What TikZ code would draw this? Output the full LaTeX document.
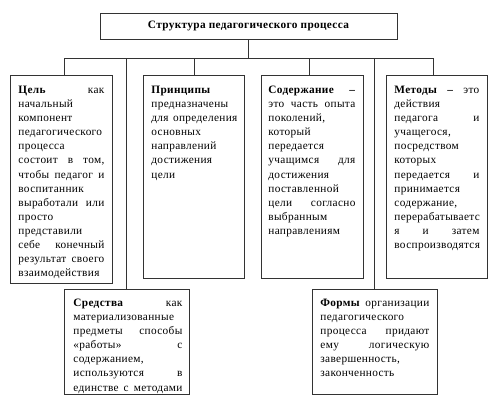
\documentclass[tikz,border=0pt]{standalone}
\usepackage{fontspec}
\setmainfont{Liberation Serif}[LetterSpace=3.0]
\newdimen\tpad \newdimen\tw
\newcommand\Ln[1]{\moveright\tpad\hbox to\tw{#1\hfil}}
% #1 width, #2 height, #3 left pad, #4 text width, #5 first baseline, #6 lines
\newcommand\bxt[6]{\tpad=#3pt\relax\tw=#4pt\relax
  \vbox to #2pt{\baselineskip=14.1pt\lineskiplimit=-20pt\lineskip=0pt
    \kern\dimexpr#5pt-14.1pt\relax\hbox to #1pt{}#6\vfill}}
\tikzset{
  box/.style={draw=black!80,line width=0.8pt,inner sep=0pt,anchor=north west,
    font=\fontsize{11.3}{14.1}\selectfont},
  conn/.style={draw=black!80,line width=0.8pt},
}
\begin{document}
\begin{tikzpicture}[x=1pt,y=-1pt]
\useasboundingbox (0,0) rectangle (500,410);
\node[draw=black!80,line width=0.8pt,minimum width=297pt,minimum height=26pt,inner sep=0pt,
  font=\fontsize{11.3}{14.1}\selectfont\bfseries] (title) at (248.5,26) {Структура педагогического процесса};

\node[box] (cel) at (10,75) {\bxt{102}{208}{8}{86}{18}{%
  \Ln{\textbf{Цель}\hfill как}%
  \Ln{начальный}%
  \Ln{компонент}%
  \Ln{педагогического}%
  \Ln{процесса}%
  \Ln{состоит\hfill в\hfill том,}%
  \Ln{чтобы\hfill педагог\hfill и}%
  \Ln{воспитанник}%
  \Ln{выработали\hfill или}%
  \Ln{просто}%
  \Ln{представили}%
  \Ln{себе\hfill конечный}%
  \Ln{результат\hfill своего}%
  \Ln{взаимодействия}}};

\node[box] (princ) at (143,75) {\bxt{101}{203}{8}{86}{18}{%
  \Ln{\textbf{Принципы}}%
  \Ln{предназначены}%
  \Ln{для\hfill определения}%
  \Ln{основных}%
  \Ln{направлений}%
  \Ln{достижения}%
  \Ln{цели}}};

\node[box] (sod) at (261,75) {\bxt{102}{203}{7}{87}{18}{%
  \Ln{\textbf{Содержание}\hfill\textbf{–}}%
  \Ln{это\hfill часть\hfill опыта}%
  \Ln{поколений,}%
  \Ln{который}%
  \Ln{передается}%
  \Ln{учащимся\hfill для}%
  \Ln{достижения}%
  \Ln{поставленной}%
  \Ln{цели\hfill согласно}%
  \Ln{выбранным}%
  \Ln{направлениям}}};

\node[box] (met) at (386,75) {\bxt{101}{203}{8}{85}{18}{%
  \Ln{\textbf{Методы}\hfill\textbf{–}\hfill это}%
  \Ln{действия}%
  \Ln{педагога\hfill и}%
  \Ln{учащегося,}%
  \Ln{посредством}%
  \Ln{которых}%
  \Ln{передается\hfill и}%
  \Ln{принимается}%
  \Ln{содержание,}%
  \Ln{перерабатываетс}%
  \Ln{я\hfill и\hfill затем}%
  \Ln{воспроизводятся}}};

\node[box] (sred) at (64,289) {\bxt{125}{105}{9}{109}{17}{%
  \Ln{\textbf{Средства}\hfill как}%
  \Ln{материализованные}%
  \Ln{предметы\hfill способы}%
  \Ln{«работы»\hfill с}%
  \Ln{содержанием,}%
  \Ln{используются\hfill в}%
  \Ln{единстве\hfill с\hfill методами}}};

\node[box] (form) at (312,289) {\bxt{125}{105}{8}{109}{17}{%
  \Ln{\textbf{Формы}\hfill организации}%
  \Ln{педагогического}%
  \Ln{процесса\hfill придают}%
  \Ln{ему\hfill логическую}%
  \Ln{завершенность,}%
  \Ln{законченность}}};

\coordinate (hub) at (248,58);
\coordinate (busL) at (64,58);
\coordinate (busR) at (433,58);
\coordinate (dSred) at (126,58);
\coordinate (dPrinc) at (194,58);
\coordinate (dSod) at (309,58);
\coordinate (dForm) at (374,58);

\draw[conn] (title.south -| hub) -- (hub);
\draw[conn] (busL) -- (busR);
\draw[conn] (busL) -- (busL |- cel.north);
\draw[conn] (dSred) -- (dSred |- sred.north);
\draw[conn] (dPrinc) -- (dPrinc |- princ.north);
\draw[conn] (dSod) -- (dSod |- sod.north);
\draw[conn] (dForm) -- (dForm |- form.north);
\draw[conn] (busR) -- (busR |- met.north);
\end{tikzpicture}
\end{document}
